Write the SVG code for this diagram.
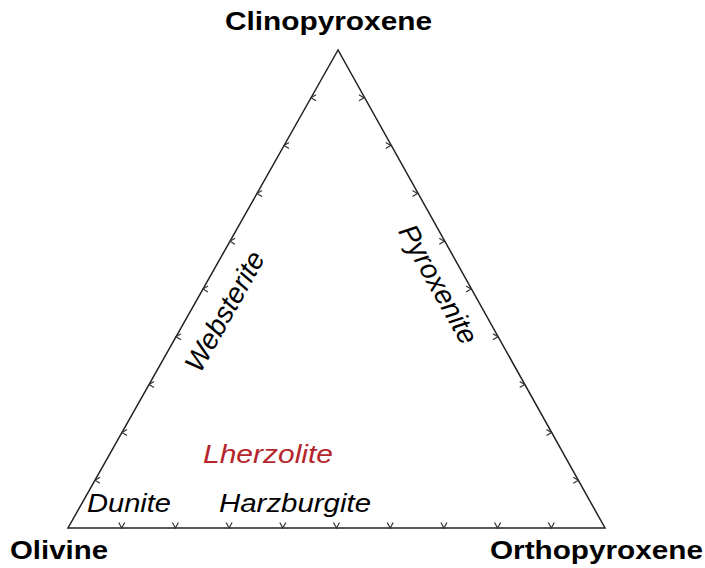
<svg xmlns="http://www.w3.org/2000/svg" width="705" height="568" viewBox="0 0 705 568">
<style>
.edge{fill:none;stroke:#222;stroke-width:1.5;stroke-linejoin:miter}
.tick{fill:none;stroke:#333;stroke-width:1.2}
.vlab{font-family:"Liberation Sans",Arial,sans-serif;font-weight:bold;font-size:25px;fill:#000}
.field{font-family:"Liberation Sans",Arial,sans-serif;font-style:italic;font-size:25px;fill:#000}
.rot{font-family:"Liberation Sans",Arial,sans-serif;font-style:italic;font-size:28px;fill:#000}
</style>
<defs>
<path id="tb" class="tick" d="M-3,-5.5 L0,0 L3,-5.5"/>
<path id="tl" class="tick" d="M5,-3 L0,0 L5,3"/>
<path id="tr" class="tick" d="M-5,-3 L0,0 L-5,3"/>
</defs>
<rect width="705" height="568" fill="#fff"/>
<g id="connectors">
<path class="edge" d="M338,50 L68,528 L605,528 Z"/>
<g id="ticks-bottom">
<use href="#tb" x="121.7" y="528"/><use href="#tb" x="175.4" y="528"/><use href="#tb" x="229.1" y="528"/>
<use href="#tb" x="282.8" y="528"/><use href="#tb" x="336.5" y="528"/><use href="#tb" x="390.2" y="528"/>
<use href="#tb" x="443.9" y="528"/><use href="#tb" x="497.6" y="528"/><use href="#tb" x="551.3" y="528"/>
</g>
<g id="ticks-left">
<use href="#tl" x="95" y="480.2"/><use href="#tl" x="122" y="432.4"/><use href="#tl" x="149" y="384.6"/>
<use href="#tl" x="176" y="336.8"/><use href="#tl" x="203" y="289"/><use href="#tl" x="230" y="241.2"/>
<use href="#tl" x="257" y="193.4"/><use href="#tl" x="284" y="145.6"/><use href="#tl" x="311" y="97.8"/>
</g>
<g id="ticks-right">
<use href="#tr" x="578.3" y="480.2"/><use href="#tr" x="551.5" y="432.4"/><use href="#tr" x="524.7" y="384.6"/>
<use href="#tr" x="497.9" y="336.8"/><use href="#tr" x="471.1" y="289"/><use href="#tr" x="444.3" y="241.2"/>
<use href="#tr" x="417.5" y="193.4"/><use href="#tr" x="390.7" y="145.6"/><use href="#tr" x="363.9" y="97.8"/>
</g>
</g>
<g id="clinopyroxene"><text class="vlab" x="225" y="30" textLength="207" lengthAdjust="spacingAndGlyphs">Clinopyroxene</text></g>
<g id="olivine"><text class="vlab" x="10" y="559" textLength="98" lengthAdjust="spacingAndGlyphs">Olivine</text></g>
<g id="orthopyroxene"><text class="vlab" x="490" y="559" textLength="213" lengthAdjust="spacingAndGlyphs">Orthopyroxene</text></g>
<g id="lherzolite"><text class="field" x="203" y="463" textLength="130" lengthAdjust="spacingAndGlyphs" style="fill:#b5262c">Lherzolite</text></g>
<g id="harzburgite"><text class="field" x="219" y="512" textLength="152" lengthAdjust="spacingAndGlyphs">Harzburgite</text></g>
<g id="dunite"><text class="field" x="87" y="512" textLength="84" lengthAdjust="spacingAndGlyphs">Dunite</text></g>
<g id="websterite"><text class="rot" text-anchor="middle" transform="translate(233,316) rotate(-60.6)">Websterite</text></g>
<g id="pyroxenite"><text class="rot" text-anchor="middle" transform="translate(430,289) rotate(60.7)">Pyroxenite</text></g>
</svg>
